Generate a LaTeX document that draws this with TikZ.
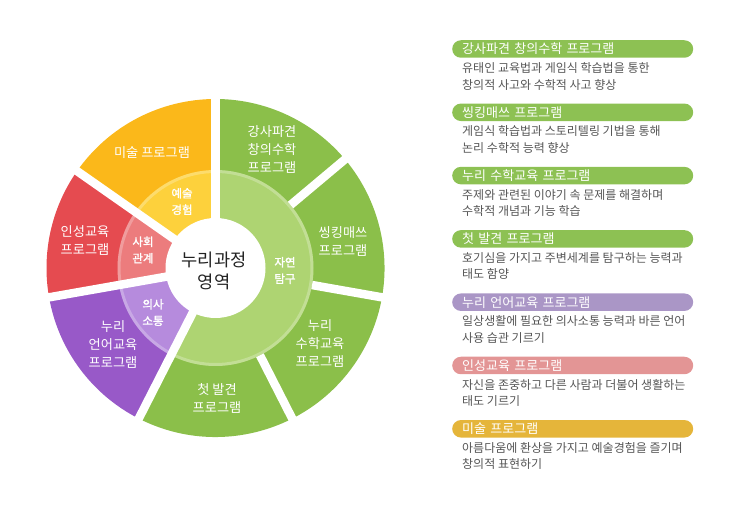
\documentclass[tikz,border=0pt]{standalone}
\usepackage{fontspec}
\setmainfont{Noto Sans CJK KR}
\newfontfamily\krbold[FakeBold=1.5]{Noto Sans CJK KR}
\usepackage{xcolor}
\usepackage{tikz}
\usetikzlibrary{positioning}

\definecolor{gout}{HTML}{8BBF4A}
\definecolor{gin}{HTML}{AED472}
\definecolor{yout}{HTML}{FBB81A}
\definecolor{yin}{HTML}{FDD13C}
\definecolor{rout}{HTML}{E54B50}
\definecolor{rin}{HTML}{EC7C7D}
\definecolor{vout}{HTML}{9859C8}
\definecolor{vin}{HTML}{B68BDD}
\definecolor{pgreen}{HTML}{8DC153}
\definecolor{pviolet}{HTML}{AA96C6}
\definecolor{ppink}{HTML}{E39595}
\definecolor{pgold}{HTML}{E5B53A}
\definecolor{dtext}{HTML}{555555}
\definecolor{ctext}{HTML}{222222}

\begin{document}
\begin{tikzpicture}[x=1pt,y=1pt,
  gap/.style={white, line width=8.5pt},
  outlabel/.style={text=white, align=center, inner sep=0pt, font=\fontsize{13.2}{18}\selectfont},
  inlabel/.style={text=white, align=center, inner sep=0pt, font=\krbold\fontsize{11.5}{16.5}\selectfont},
  pill/.style={fill=#1, rounded corners=8.75pt, minimum height=17.5pt, text width=221pt,
    inner xsep=10pt, inner ysep=0pt, anchor=west, align=left, text=white,
    font=\fontsize{13}{15}\selectfont},
  desc/.style={anchor=west, align=left, inner sep=0pt, text=dtext, font=\fontsize{12}{16.5}\selectfont}]
  \useasboundingbox (0,0) rectangle (748,517);

  % wheel
  \coordinate (c) at (215.5,249);
  \fill[gout] (c) -- ++(-117:169) arc[start angle=-117, end angle=90, radius=169] -- cycle;
  \fill[yout] (c) -- ++(90:169) arc[start angle=90, end angle=145, radius=169] -- cycle;
  \fill[rout] (c) -- ++(145:169) arc[start angle=145, end angle=190, radius=169] -- cycle;
  \fill[vout] (c) -- ++(190:169) arc[start angle=190, end angle=243, radius=169] -- cycle;

  \fill[gin] (c) -- ++(-117:98) arc[start angle=-117, end angle=90, radius=98] -- cycle;
  \fill[yin] (c) -- ++(90:98) arc[start angle=90, end angle=145, radius=98] -- cycle;
  \fill[rin] (c) -- ++(145:98) arc[start angle=145, end angle=190, radius=98] -- cycle;
  \fill[vin] (c) -- ++(190:98) arc[start angle=190, end angle=243, radius=98] -- cycle;
  \draw[white, opacity=.25, line width=3pt] (c) circle[radius=96.5];

  \draw[gap] (c) -- ++(90:176);
  \draw[gap] (c) -- ++(145:176);
  \draw[gap] (c) -- ++(190:176);
  \draw[gap] (c) -- ++(243:176);
  \draw[gap] (c) ++(40:98) -- ++(40:78);
  \draw[gap] (c) ++(-10:98) -- ++(-10:78);
  \draw[gap] (c) ++(-63:98) -- ++(-63:78);
  \fill[white] (c) circle[radius=50];

  \node[outlabel] (gangsa) at (272,368) {강사파견\\창의수학\\프로그램};
  \node[outlabel] (thinking) at (343,276) {씽킹매쓰\\프로그램};
  \node[outlabel] (suhak) at (320,174) {누리\\수학교육\\프로그램};
  \node[outlabel] (balgyeon) at (217,119) {첫 발견\\프로그램};
  \node[outlabel] (eoneo) at (113,173) {누리\\언어교육\\프로그램};
  \node[outlabel] (inseong) at (85,277) {인성교육\\프로그램};
  \node[outlabel] (misul) at (152,364) {미술 프로그램};

  \node[inlabel] (yesul) at (182,315.5) {예술\\경험};
  \node[inlabel] (sahoe) at (143,267) {사회\\관계};
  \node[inlabel] (uisa) at (153,204.5) {의사\\소통};
  \node[inlabel] (jayeon) at (285,246.5) {자연\\탐구};
  \node[align=center, inner sep=0pt, text=ctext, font=\fontsize{17.6}{22}\selectfont] (nuri) at (214,246) {누리과정\\영역};

  % program list
  \node[pill=pgreen] (t1) at (452,468) {강사파견 창의수학 프로그램};
  \node[desc] (d1) at (462,440.75) {유태인 교육법과 게임식 학습법을 통한\\창의적 사고와 수학적 사고 향상};
  \node[pill=pgreen] (t2) at (452,404.7) {씽킹매쓰 프로그램};
  \node[desc] (d2) at (462,377.45) {게임식 학습법과 스토리텔링 기법을 통해\\논리 수학적 능력 향상};
  \node[pill=pgreen] (t3) at (452,341.4) {누리 수학교육 프로그램};
  \node[desc] (d3) at (462,314.15) {주제와 관련된 이야기 속 문제를 해결하며\\수학적 개념과 기능 학습};
  \node[pill=pgreen] (t4) at (452,278.1) {첫 발견 프로그램};
  \node[desc] (d4) at (462,250.85) {호기심을 가지고 주변세계를 탐구하는 능력과\\태도 함양};
  \node[pill=pviolet] (t5) at (452,214.8) {누리 언어교육 프로그램};
  \node[desc] (d5) at (462,187.55) {일상생활에 필요한 의사소통 능력과 바른 언어\\사용 습관 기르기};
  \node[pill=ppink] (t6) at (452,151.5) {인성교육 프로그램};
  \node[desc] (d6) at (462,124.25) {자신을 존중하고 다른 사람과 더불어 생활하는\\태도 기르기};
  \node[pill=pgold] (t7) at (452,88.2) {미술 프로그램};
  \node[desc] (d7) at (462,60.95) {아름다움에 환상을 가지고 예술경험을 즐기며\\창의적 표현하기};
\end{tikzpicture}
\end{document}
